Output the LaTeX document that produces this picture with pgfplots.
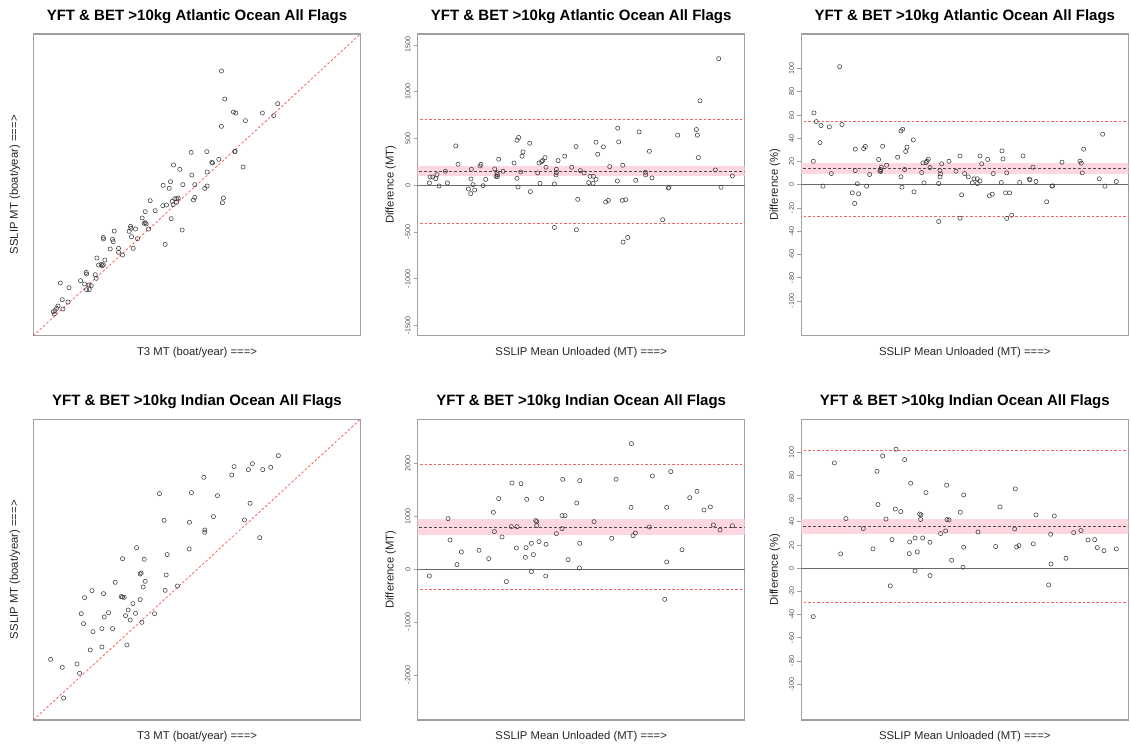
\documentclass[border=0pt]{standalone}
\usepackage{fontspec}
\setmainfont{Liberation Sans}
\usepackage{pgfplots}
\pgfplotsset{compat=1.18}
\definecolor{boxgrey}{RGB}{160,160,160}
\definecolor{ptcol}{RGB}{60,60,60}
\definecolor{bandpink}{RGB}{255,215,224}
\definecolor{limred}{RGB}{255,95,95}
\definecolor{meangrey}{RGB}{75,75,75}
\definecolor{zerogrey}{RGB}{105,105,105}
\definecolor{tickgrey}{RGB}{85,85,85}
\pgfplotsset{
  panel/.style={
    scale only axis, width=327pt, anchor=south west,
    axis line style={draw=boxgrey, line width=1.1pt},
    xtick=\empty, ytick pos=left, tick align=outside,
    major tick length=4pt, tick style={draw=boxgrey, line width=0.8pt},
    yticklabel style={rotate=90, anchor=south, font=\fontsize{7.2}{8}\selectfont, text=tickgrey, inner sep=3pt},
    xmin=0, xmax=981,
  },
  pts/.style={only marks, mark=o, mark size=2.1pt, mark options={draw=ptcol, line width=0.55pt}},
  bandfill/.style={draw=none, fill=bandpink, forget plot},
  limline/.style={draw=limred, color=limred, no marks, line width=1.05pt, dash pattern=on 2.5pt off 2pt},
  meanline/.style={draw=meangrey, color=meangrey, no marks, line width=0.8pt, dash pattern=on 3pt off 2pt},
  zeroline/.style={draw=zerogrey, color=zerogrey, no marks, line width=0.9pt},
}
\newcommand{\ttl}[3]{\node[font=\fontsize{15}{17}\selectfont\bfseries] at (#1pt,#2pt) {#3};}
\newcommand{\lab}[3]{\node[font=\fontsize{11.3}{13}\selectfont, text=black!85] at (#1pt,#2pt) {#3};}
\newcommand{\ylab}[3]{\node[font=\fontsize{11.3}{13}\selectfont, text=black!85, rotate=90] at (#1pt,#2pt) {#3};}
\begin{document}
\begin{tikzpicture}
\useasboundingbox (0,0) rectangle (1131pt,747pt);

% ---------------- Panel 1 ----------------
\begin{axis}[panel, at={(33.3pt,411.3pt)}, height=301.7pt, ytick=\empty,
  xmin=0, xmax=982, ymin=0, ymax=905]
\addplot[limline, line width=0.8pt] coordinates {(0,0) (982,905)};
\addplot[pts] coordinates {
(565,794) (575,710) (734,696) (601,671) (608,668) (688,668) (722,660) (637,645) (565,628)
(474,550) (521,552) (606,553) (605,552) (557,529) (536,520) (538,518) (421,512) (440,499)
(476,482) (522,491) (630,506) (412,462) (390,451) (449,453) (485,453) (408,442) (515,442)
(522,449) (351,405) (425,411) (431,410) (435,413) (417,403) (420,393) (430,400) (389,390)
(400,392) (485,415) (481,407) (571,413) (568,399) (336,372) (366,375) (327,353) (333,337)
(336,339) (339,335) (414,351) (243,314) (292,328) (293,322) (288,313) (307,320) (346,320)
(447,317) (210,295) (211,290) (238,289) (240,282) (295,297) (313,291) (396,274) (231,260)
(256,262) (256,250) (300,262) (268,242) (191,233) (215,227) (204,214) (207,210) (210,212)
(196,212) (159,190) (160,185) (186,183) (189,172) (142,165) (154,155) (167,152) (174,150)
(160,138) (168,138) (81,158) (107,144) (87,108) (104,101) (74,89) (70,82) (89,80) (60,72)
(65,75) (63,65)
};
\end{axis}

% ---------------- Panel 2 ----------------
\begin{axis}[panel, at={(417.7pt,411.3pt)}, height=301.7pt,
  ymin=-1607, ymax=1617,
  ytick={-1500,-1000,-500,0,500,1000,1500},
  yticklabels={-1500,-1000,-500,0,500,1000,1500}]
\addplot[bandfill] coordinates {(-100,100) (1100,100) (1100,207) (-100,207)};
\addplot[zeroline] coordinates {(-100,0) (1100,0)};
\addplot[limline] coordinates {(-100,707) (1100,707)};
\addplot[limline] coordinates {(-100,-404) (1100,-404)};
\addplot[meanline] coordinates {(-100,154) (1100,154)};
\addplot[pts] coordinates {
(903,1353) (847,903) (600,611) (836,596) (839,536) (780,536) (664,571) (303,511) (298,482)
(603,464) (535,461) (336,450) (114,421) (475,414) (557,411) (316,357) (695,364) (540,332)
(313,311) (441,311) (842,296) (243,279) (382,296) (375,264) (372,254) (421,264) (121,225)
(190,225) (187,207) (289,239) (364,239) (462,193) (385,193) (576,200) (615,214) (231,175)
(161,171) (83,150) (256,150) (309,143) (416,171) (416,136) (415,111) (488,157) (499,132)
(360,132) (238,136) (239,114) (235,96) (239,93) (683,139) (684,111) (893,164) (58,114)
(37,89) (45,89) (54,71) (35,25) (64,-7) (89,25) (160,68) (204,64) (196,-4) (166,7) (298,75)
(301,-18) (367,21) (410,14) (517,96) (527,96) (513,29) (526,21) (535,64) (599,46) (654,54)
(703,79) (944,100) (152,-39) (171,-50) (159,-89) (338,-68) (754,-21) (752,-29) (910,-21)
(480,-150) (572,-161) (564,-179) (614,-161) (624,-154) (735,-368) (410,-450) (476,-475)
(616,-607) (630,-557)
};
\end{axis}

% ---------------- Panel 3 ----------------
\begin{axis}[panel, at={(801.3pt,411.3pt)}, height=301.7pt,
  ymin=-129.8, ymax=129.8,
  ytick={-100,-80,-60,-40,-20,0,20,40,60,80,100},
  yticklabels={-100,-80,-60,-40,-20,0,20,40,60,80,100}]
\addplot[bandfill] coordinates {(-100,9.2) (1100,9.2) (1100,18.9) (-100,18.9)};
\addplot[zeroline] coordinates {(-100,0) (1100,0)};
\addplot[limline] coordinates {(-100,54.6) (1100,54.6)};
\addplot[limline] coordinates {(-100,-27.6) (1100,-27.6)};
\addplot[meanline] coordinates {(-100,14.0) (1100,14.0)};
\addplot[pts] coordinates {
(115,101.7) (38,61.9) (45,54.4) (59,51.0) (84,49.9) (122,51.9) (56,36.4) (36,20.3) (90,9.7)
(65,-1.1) (299,46.4) (304,47.9) (162,30.7) (187,31.2) (192,33.0) (244,33.2) (904,43.6)
(847,30.7) (336,38.7) (317,32.4) (313,28.7) (232,21.8) (289,23.8) (602,29.2) (476,24.9)
(536,24.9) (665,24.9) (605,22.3) (559,21.8) (836,20.3) (840,18.6) (782,19.5) (443,20.3)
(381,22.1) (377,20.3) (374,19.2) (365,18.9) (421,18.1) (541,18.1) (256,16.9) (162,12.3)
(240,15.2) (238,13.2) (238,11.5) (236,12.0) (310,13.2) (386,14.9) (416,12.3) (418,9.5)
(416,6.9) (464,11.7) (695,15.2) (361,10.6) (299,6.9) (205,8.9) (490,9.7) (501,6.9) (576,9.7)
(616,10.3) (843,10.3) (518,5.2) (528,5.2) (536,3.4) (513,1.7) (528,1.1) (600,2.0) (655,2.0)
(684,4.9) (686,4.3) (704,2.9) (894,5.2) (945,2.9) (368,1.7) (412,1.1) (168,0.9) (196,-1.1)
(302,-2.0) (754,-0.9) (752,-1.1) (911,-1.1) (153,-6.9) (172,-7.7) (338,-6.0) (481,-8.6)
(564,-9.5) (573,-8.0) (613,-6.9) (625,-6.9) (160,-16.0) (736,-14.6) (412,-31.5) (476,-28.7)
(616,-28.9) (631,-26.1)
};
\end{axis}

% ---------------- Panel 4 ----------------
\begin{axis}[panel, at={(33.3pt,27pt)}, height=300.7pt, ytick=\empty,
  xmin=0, xmax=982, ymin=0, ymax=902]
\addplot[limline, line width=0.8pt] coordinates {(0,0) (982,902)};
\addplot[pts] coordinates {
(736,793) (603,760) (658,769) (646,751) (689,751) (713,758) (596,735) (512,728) (379,679)
(475,682) (553,673) (651,650) (541,610) (393,599) (469,593) (634,600) (515,570) (515,563)
(680,547) (310,517) (468,513) (402,496) (268,484) (333,482) (324,441) (321,438) (399,435)
(246,413) (336,416) (330,399) (433,402) (176,388) (211,379) (396,389) (154,367) (264,370)
(268,369) (273,368) (321,361) (299,349) (285,330) (307,320) (226,322) (144,319) (277,313)
(213,309) (364,319) (291,300) (326,293) (151,289) (206,274) (238,274) (179,265) (281,225)
(206,219) (171,210) (52,182) (87,158) (131,168) (139,140) (91,66)
};
\end{axis}

% ---------------- Panel 5 ----------------
\begin{axis}[panel, at={(417.7pt,27pt)}, height=300.7pt,
  ymin=-2852, ymax=2839,
  ytick={-2000,-1000,0,1000,2000},
  yticklabels={-2000,-1000,0,1000,2000}]
\addplot[bandfill] coordinates {(-100,650) (1100,650) (1100,953) (-100,953)};
\addplot[zeroline] coordinates {(-100,0) (1100,0)};
\addplot[limline] coordinates {(-100,1978) (1100,1978)};
\addplot[limline] coordinates {(-100,-385) (1100,-385)};
\addplot[meanline] coordinates {(-100,801) (1100,801)};
\addplot[pts] coordinates {
(641,2379) (759,1849) (704,1767) (435,1703) (595,1703) (486,1678) (283,1634) (310,1621)
(838,1476) (816,1356) (243,1338) (372,1338) (327,1325) (477,1255) (878,1180) (640,1173)
(747,1173) (859,1123) (227,1079) (433,1016) (442,1016) (91,959) (354,921) (357,902) (357,826)
(529,902) (887,839) (944,826) (281,808) (298,808) (695,801) (433,770) (907,744) (230,713)
(653,688) (646,637) (416,675) (253,612) (582,587) (97,555) (364,524) (341,492) (385,473)
(486,492) (296,404) (325,410) (793,372) (184,360) (131,328) (347,278) (323,227) (213,202)
(451,183) (747,139) (118,88) (485,25) (341,-44) (35,-126) (384,-126) (266,-233) (741,-568)
};
\end{axis}

% ---------------- Panel 6 ----------------
\begin{axis}[panel, at={(801.3pt,27pt)}, height=300.7pt,
  ymin=-130.8, ymax=128.4,
  ytick={-100,-80,-60,-40,-20,0,20,40,60,80,100},
  yticklabels={-100,-80,-60,-40,-20,0,20,40,60,80,100}]
\addplot[bandfill] coordinates {(-100,29.6) (1100,29.6) (1100,42.5) (-100,42.5)};
\addplot[zeroline] coordinates {(-100,0) (1100,0)};
\addplot[limline] coordinates {(-100,101.4) (1100,101.4)};
\addplot[limline] coordinates {(-100,-29.9) (1100,-29.9)};
\addplot[meanline] coordinates {(-100,35.9) (1100,35.9)};
\addplot[pts] coordinates {
(284,102.6) (244,96.8) (99,90.8) (310,93.7) (227,83.6) (328,73.3) (436,71.6) (642,68.4)
(374,65.2) (487,63.2) (230,54.9) (596,52.9) (282,51.1) (298,48.9) (477,48.3) (355,46.8)
(359,46.0) (704,46.0) (759,45.1) (134,42.8) (254,42.5) (358,42.0) (437,42.0) (443,41.7)
(186,34.2) (640,33.9) (433,32.2) (839,32.5) (530,31.3) (817,30.7) (418,29.9) (748,29.3)
(341,26.1) (364,26.1) (272,24.7) (860,24.4) (880,24.7) (325,22.7) (386,22.4) (696,21.0)
(653,19.5) (646,18.4) (583,18.7) (487,18.1) (888,17.8) (215,16.7) (945,16.7) (908,15.2)
(348,14.1) (118,12.4) (324,12.6) (794,8.6) (451,6.9) (749,3.7) (485,0.9) (341,-2.3)
(386,-6.3) (267,-15.2) (742,-14.4) (36,-41.7)
};
\end{axis}

% ---------------- Titles and labels ----------------
\ttl{197}{730}{YFT \& BET >10kg Atlantic Ocean All Flags}
\ttl{581.2}{730}{YFT \& BET >10kg Atlantic Ocean All Flags}
\ttl{964.8}{730}{YFT \& BET >10kg Atlantic Ocean All Flags}
\ttl{197}{345.3}{YFT \& BET >10kg Indian Ocean All Flags}
\ttl{581.2}{345.3}{YFT \& BET >10kg Indian Ocean All Flags}
\ttl{964.8}{345.3}{YFT \& BET >10kg Indian Ocean All Flags}

\lab{197}{394.7}{T3 MT (boat/year) ===>}
\lab{581.2}{394.7}{SSLIP Mean Unloaded (MT) ===>}
\lab{964.8}{394.7}{SSLIP Mean Unloaded (MT) ===>}
\lab{197}{10.3}{T3 MT (boat/year) ===>}
\lab{581.2}{10.3}{SSLIP Mean Unloaded (MT) ===>}
\lab{964.8}{10.3}{SSLIP Mean Unloaded (MT) ===>}

\ylab{15}{562.2}{SSLIP MT (boat/year) ===>}
\ylab{390.7}{562.2}{Difference (MT)}
\ylab{775}{562.2}{Difference (\%)}
\ylab{15}{177.4}{SSLIP MT (boat/year) ===>}
\ylab{390.7}{177.4}{Difference (MT)}
\ylab{775}{177.4}{Difference (\%)}
\end{tikzpicture}
\end{document}
